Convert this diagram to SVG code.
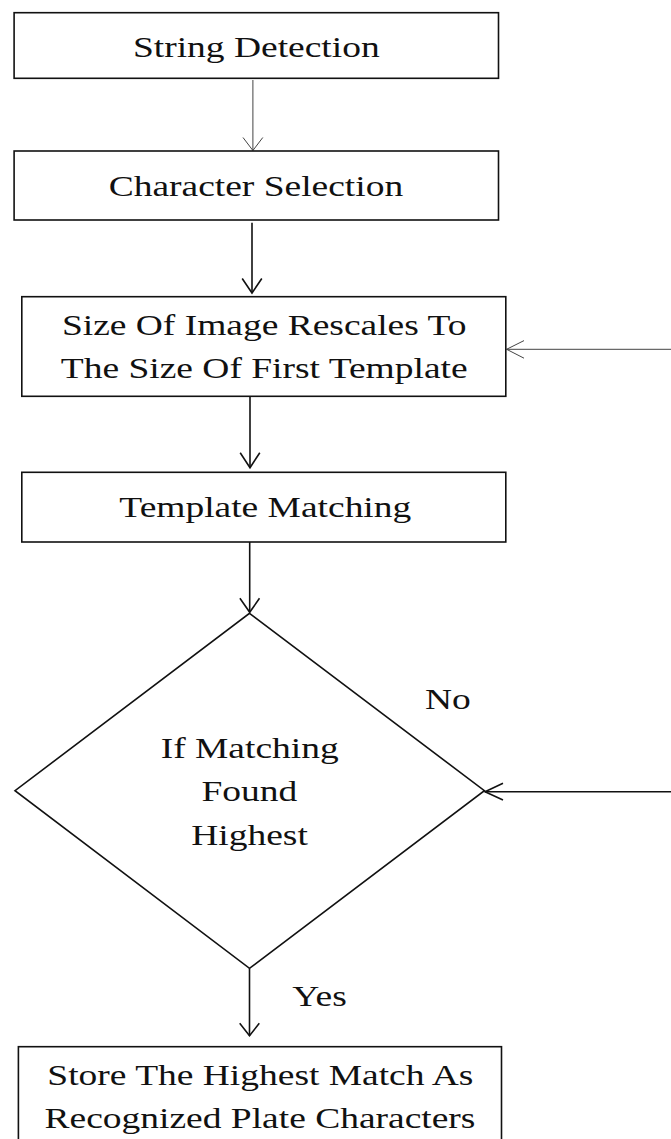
<svg xmlns="http://www.w3.org/2000/svg" width="671" height="1139" viewBox="0 0 671 1139">
<style>
.box{fill:#fff;stroke:#111;stroke-width:1.6}
.t{font-family:"Liberation Serif","Times New Roman",serif;font-size:30px;fill:#111;text-anchor:middle}
.tl{font-family:"Liberation Serif","Times New Roman",serif;font-size:30px;fill:#111;text-anchor:start}
.c{fill:none;stroke:#111;stroke-width:1.6}
.thin{fill:none;stroke:#444;stroke-width:1}
</style>
<rect width="671" height="1139" fill="#fff"/>
<g id="connectors">
<path class="thin" d="M252.9,80 V150.5"/>
<path class="thin" d="M243,137.5 L252.9,150.5 L262.8,137.5"/>
<path class="c" d="M252,222.7 V293"/>
<path class="c" d="M242.2,278.5 L252,293 L261.8,278.5"/>
<path class="thin" d="M671,349.3 H506.6"/>
<path class="thin" d="M524,340.6 L506.6,349.3 L524,358.2"/>
<path class="c" d="M250,396.3 V467.7"/>
<path class="c" d="M240.2,452.7 L250,467.7 L259.8,452.7"/>
<path class="c" d="M249.7,542 V612.3"/>
<path class="c" d="M239.9,598.3 L249.7,612.3 L259.5,598.3"/>
<path class="c" d="M671,791.7 H485"/>
<path class="c" d="M503,783.3 L485,791.7 L503,800"/>
<path class="c" d="M249.5,968.3 V1035.7"/>
<path class="c" d="M239.7,1023.3 L249.5,1035.7 L259.3,1023.3"/>
<text class="tl" transform="translate(425,709.3) scale(1.25,1)">No</text>
<text class="tl" transform="translate(292.3,1006) scale(1.25,1)">Yes</text>
</g>
<g id="n1">
<rect class="box" x="14.1" y="12.7" width="484.4" height="65.6"/>
<text class="t" transform="translate(256.3,57.3) scale(1.25,1)">String Detection</text>
</g>
<g id="n2">
<rect class="box" x="14.1" y="151" width="484.4" height="69"/>
<text class="t" transform="translate(255.9,196) scale(1.25,1)">Character Selection</text>
</g>
<g id="n3">
<rect class="box" x="21.8" y="296.7" width="484" height="99.6"/>
<text class="t" transform="translate(264.2,335) scale(1.25,1)">Size Of Image Rescales To</text>
<text class="t" transform="translate(264.2,377.7) scale(1.25,1)">The Size Of First Template</text>
</g>
<g id="n4">
<rect class="box" x="21.8" y="472.3" width="484" height="69.7"/>
<text class="t" transform="translate(265.3,517.3) scale(1.25,1)">Template Matching</text>
</g>
<g id="n5">
<polygon class="box" points="249.5,613.3 484.4,790.7 249.5,968.3 15,790.7"/>
<text class="t" transform="translate(249.7,758.3) scale(1.25,1)">If Matching</text>
<text class="t" transform="translate(249.3,801) scale(1.25,1)">Found</text>
<text class="t" transform="translate(249.5,845) scale(1.25,1)">Highest</text>
</g>
<g id="n6">
<rect class="box" x="18.4" y="1046.7" width="483.1" height="100"/>
<text class="t" transform="translate(260.4,1085) scale(1.25,1)">Store The Highest Match As</text>
<text class="t" transform="translate(260,1127.7) scale(1.25,1)">Recognized Plate Characters</text>
</g>
</svg>
